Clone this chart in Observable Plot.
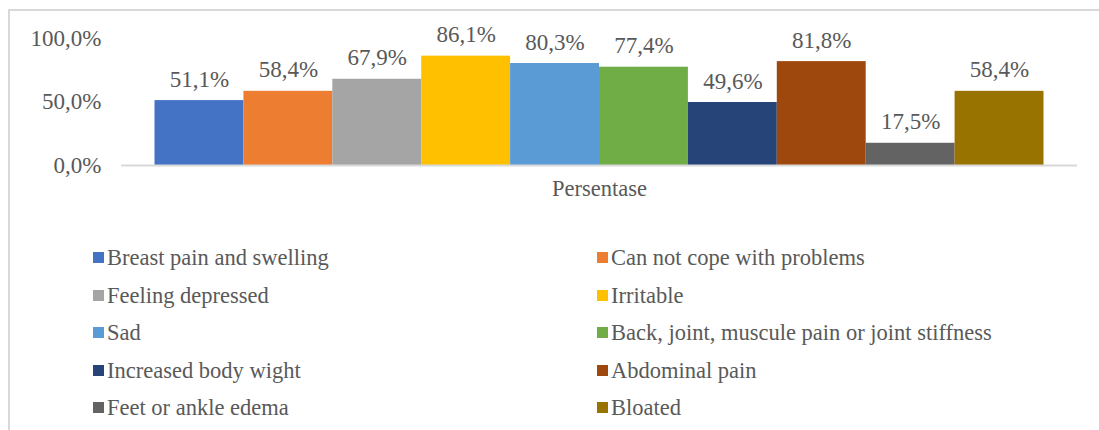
<!DOCTYPE html>
<html>
<head>
<meta charset="utf-8">
<script src="https://cdn.jsdelivr.net/npm/d3@7"></script>
<script src="https://cdn.jsdelivr.net/npm/@observablehq/plot@0.6"></script>
<style>
  html, body { margin: 0; padding: 0; background: #fff; }
  body { width: 1099px; height: 430px; position: relative; overflow: hidden; font-family: "Liberation Serif", "Times New Roman", serif; }
  #frame { position: absolute; left: 8px; top: 9px; width: 1100px; height: 430px; border-top: 2px solid #d9d9d9; border-left: 2px solid #d9d9d9; }
  #chart { position: absolute; left: 0; top: 0; }
  .legend { position: absolute; top: 239px; margin: 0; padding: 0; list-style: none; color: #595959; font-size: 22.5px; }
  .legend li { height: 37.5px; line-height: 37.5px; display: flex; align-items: center; white-space: nowrap; }
  .legend .sw { width: 11px; height: 11px; margin-right: 3px; display: inline-block; flex: none; }
</style>
</head>
<body>
<div id="frame"></div>
<div id="chart"></div>
<ul class="legend" id="leg1" style="left:93px"></ul>
<ul class="legend" id="leg2" style="left:597px"></ul>
<script>
const groupName = "Persentase";
const symptoms = [
  "Breast pain and swelling",
  "Can not cope with problems",
  "Feeling depressed",
  "Irritable",
  "Sad",
  "Back, joint, muscule pain or joint stiffness",
  "Increased body wight",
  "Abdominal pain",
  "Feet or ankle edema",
  "Bloated"
];
const percentages = [51.1, 58.4, 67.9, 86.1, 80.3, 77.4, 49.6, 81.8, 17.5, 58.4];
const colors = ["#4472C4", "#ED7D31", "#A5A5A5", "#FFC000", "#5B9BD5", "#70AD47", "#264478", "#9E480E", "#636363", "#997300"];
const yTicks = [0, 50, 100];

const fmt = v => v.toFixed(1).replace(".", ",") + "%";
const data = symptoms.map((s, i) => ({group: groupName, name: s, value: percentages[i]}));

const chart = Plot.plot({
  width: 1099,
  height: 215,
  marginLeft: 121,
  marginRight: 22,
  marginTop: 38,
  marginBottom: 50,
  style: {fontFamily: "'Liberation Serif', 'Times New Roman', serif", color: "#595959", background: "transparent"},
  x: {domain: symptoms, axis: null, paddingInner: 0, paddingOuter: 0.377, round: false},
  fx: {domain: [groupName], axis: null, padding: 0, round: false},
  y: {domain: [0, 100], axis: null},
  color: {domain: symptoms, range: colors},
  marks: [
    Plot.axisY({ticks: yTicks, tickFormat: fmt, tickSize: 0, tickPadding: 20, label: null, fontSize: 23, fill: "#595959"}),
    Plot.axisFx({anchor: "bottom", tickSize: 0, tickPadding: 15, label: null, fontSize: 22.5, fill: "#595959"}),
    Plot.barY(data, {fx: "group", x: "name", y: "value", fill: "name"}),
    Plot.ruleY([0], {stroke: "#d9d9d9", strokeWidth: 2}),
    Plot.text(data, {fx: "group", x: "name", y: "value", text: d => fmt(d.value), dy: -14, lineAnchor: "bottom", fontSize: 23, fill: "#595959"})
  ]
});
document.getElementById("chart").appendChild(chart);

const leg1 = document.getElementById("leg1");
const leg2 = document.getElementById("leg2");
symptoms.forEach((s, i) => {
  const li = document.createElement("li");
  const sw = document.createElement("span");
  sw.className = "sw";
  sw.style.background = colors[i];
  li.appendChild(sw);
  li.appendChild(document.createTextNode(s));
  (i % 2 === 0 ? leg1 : leg2).appendChild(li);
});
</script>
</body>
</html>
